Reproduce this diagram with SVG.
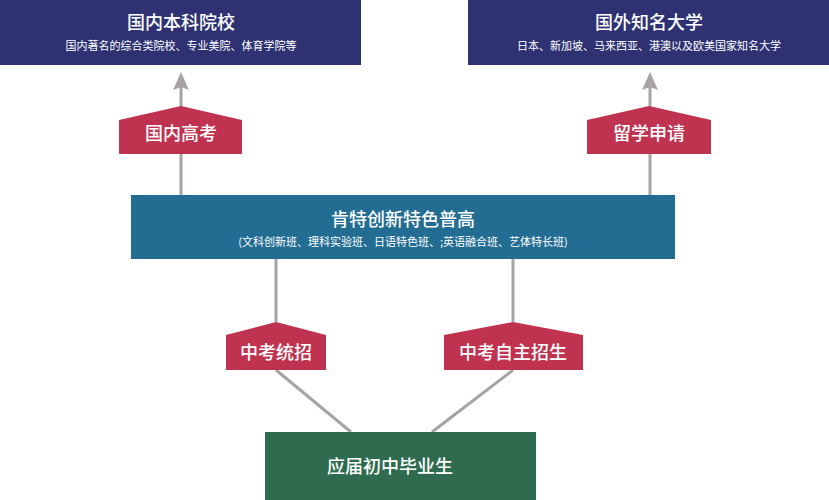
<svg xmlns="http://www.w3.org/2000/svg" width="829" height="500" viewBox="0 0 829 500">
<style>
text{font-family:"Noto Sans CJK SC","Noto Sans",sans-serif;fill:#fff;text-anchor:middle}
.t{font-size:18px;font-weight:500}
.s{font-size:11px}
.lab{fill:#c03350}
.ln{stroke:#a8a3a3;stroke-width:3;fill:none}
</style>
<defs><marker id="ah" markerWidth="12" markerHeight="12" refX="6" refY="2" orient="auto-start-reverse" markerUnits="userSpaceOnUse" viewBox="0 0 12 12"><path d="M0,12L6,0L12,12L6,10Z" fill="#a8a3a3" transform="rotate(0)"/></marker></defs>
<g id="connectors">
<line class="ln" x1="181" y1="195" x2="181" y2="76"/>
<path d="M181,72L173,90L181,87L189,90Z" fill="#a8a3a3"/>
<line class="ln" x1="650" y1="195" x2="650" y2="76"/>
<path d="M650,72L642,90L650,87L658,90Z" fill="#a8a3a3"/>
<line class="ln" x1="276" y1="259" x2="276" y2="322"/>
<line class="ln" x1="513" y1="259" x2="513" y2="322"/>
<line class="ln" x1="276" y1="370" x2="351" y2="432"/>
<line class="ln" x1="513" y1="370" x2="432" y2="432"/>
</g>
<g id="n1"><rect x="0" y="0" width="361" height="65" fill="#2e3272"/>
<text class="t" x="181" y="29">国内本科院校</text><text class="s" x="181" y="50">国内著名的综合类院校、专业美院、体育学院等</text></g>
<g id="n2"><rect x="468" y="0" width="361" height="65" fill="#2e3272"/>
<text class="t" x="649" y="29">国外知名大学</text><text class="s" x="649" y="50">日本、新加坡、马来西亚、港澳以及欧美国家知名大学</text></g>
<g id="l1"><path class="lab" d="M119,120L181,106L242,120L242,154L119,154Z"/><text class="t" x="181" y="140">国内高考</text></g>
<g id="l2"><path class="lab" d="M587,120L649,106L711,120L711,154L587,154Z"/><text class="t" x="649" y="140">留学申请</text></g>
<g id="n3"><rect x="131" y="195" width="544" height="64" fill="#236d93"/>
<text class="t" x="403" y="226">肯特创新特色普高</text><text class="s" x="403" y="246">(文科创新班、理科实验班、日语特色班、;英语融合班、艺体特长班)</text></g>
<g id="l3"><path class="lab" d="M226,335L276,322L326,335L326,370L226,370Z"/><text class="t" x="276" y="359">中考统招</text></g>
<g id="l4"><path class="lab" d="M444,335L513,322L583,335L583,370L444,370Z"/><text class="t" x="513" y="359">中考自主招生</text></g>
<g id="n4"><rect x="265" y="432" width="271" height="68" fill="#2e6b4f"/><text class="t" x="390" y="473">应届初中毕业生</text></g>
</svg>
